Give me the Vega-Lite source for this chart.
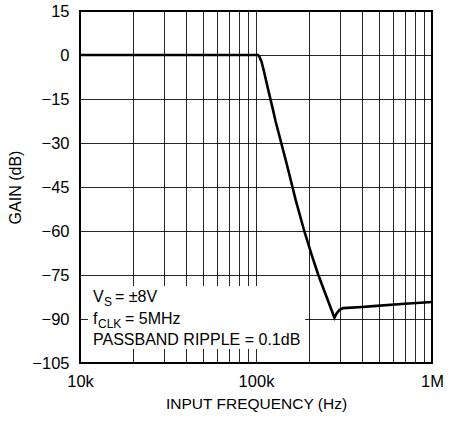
{
  "$schema": "https://vega.github.io/schema/vega-lite/v6.json",
  "width": 352,
  "height": 352,
  "autosize": {"type": "none"},
  "padding": {"left": 80, "top": 11, "right": 24, "bottom": 58},
  "background": "white",
  "config": {
    "font": "Liberation Sans",
    "view": {"stroke": "black", "strokeWidth": 2},
    "axis": {
      "domain": false,
      "ticks": false,
      "grid": true,
      "gridColor": "black",
      "gridOpacity": 0.85,
      "gridWidth": 1,
      "labelFont": "Liberation Sans",
      "labelFontSize": 16.5,
      "labelColor": "black",
      "titleFont": "Liberation Sans",
      "titleFontSize": 15.5,
      "titleFontWeight": "normal",
      "titleColor": "black"
    }
  },
  "layer": [
    {
      "data": {"values": [{}]},
      "mark": {"type": "rect", "fill": "white", "stroke": null},
      "encoding": {
        "x": {"datum": 11100, "type": "quantitative", "scale": {"type": "log", "domain": [10000, 1000000], "nice": false},
          "axis": {
            "grid": true,
            "values": [10000, 20000, 30000, 40000, 50000, 60000, 70000, 80000, 90000, 100000, 200000, 300000, 400000, 500000, 600000, 700000, 800000, 900000, 1000000],
            "labelExpr": "datum.value == 10000 ? '10k' : datum.value == 100000 ? '100k' : datum.value == 1000000 ? '1M' : ''",
            "labelPadding": 10,
            "labelFlush": false,
            "labelOverlap": false,
            "title": "INPUT FREQUENCY (Hz)",
            "titlePadding": 7
          }},
        "x2": {"datum": 190000},
        "y": {"datum": -78.75, "type": "quantitative", "scale": {"domain": [-105, 15], "nice": false},
          "axis": {
            "grid": true,
            "values": [-105, -90, -75, -60, -45, -30, -15, 0, 15],
            "labelPadding": 11,
            "title": "GAIN (dB)",
            "titleFontSize": 16,
            "titlePadding": 8
          }},
        "y2": {"datum": -100.2}
      }
    },
    {
      "data": {
        "values": [
          {"f": 10000, "gain": 0},
          {"f": 30000, "gain": 0},
          {"f": 102500, "gain": 0},
          {"f": 104500, "gain": -0.6},
          {"f": 107500, "gain": -2.3},
          {"f": 110000, "gain": -4.6},
          {"f": 118000, "gain": -12.5},
          {"f": 125000, "gain": -18.8},
          {"f": 129000, "gain": -22.4},
          {"f": 150000, "gain": -37.5},
          {"f": 168000, "gain": -49.4},
          {"f": 188000, "gain": -60},
          {"f": 208000, "gain": -68.5},
          {"f": 226000, "gain": -75},
          {"f": 250000, "gain": -82},
          {"f": 279000, "gain": -89.6},
          {"f": 287000, "gain": -88.1},
          {"f": 298000, "gain": -86.9},
          {"f": 313000, "gain": -86.3},
          {"f": 400000, "gain": -85.9},
          {"f": 464000, "gain": -85.6},
          {"f": 700000, "gain": -84.8},
          {"f": 1000000, "gain": -84.2}
        ]
      },
      "mark": {"type": "line", "color": "black", "strokeWidth": 2.6, "interpolate": "linear"},
      "encoding": {
        "x": {"field": "f", "type": "quantitative"},
        "y": {"field": "gain", "type": "quantitative"}
      }
    },
    {
      "data": {"values": [{}]},
      "layer": [
        {
          "mark": {"type": "text", "text": "V", "align": "left", "baseline": "alphabetic", "fontSize": 16, "font": "Liberation Sans", "color": "black"},
          "encoding": {"x": {"datum": 11850, "type": "quantitative"}, "y": {"datum": -84.2, "type": "quantitative"}}
        },
        {
          "mark": {"type": "text", "text": "S", "align": "left", "baseline": "alphabetic", "fontSize": 12, "dx": 11, "dy": 4, "font": "Liberation Sans", "color": "black"},
          "encoding": {"x": {"datum": 11850, "type": "quantitative"}, "y": {"datum": -84.2, "type": "quantitative"}}
        },
        {
          "mark": {"type": "text", "text": "= ±8V", "align": "left", "baseline": "alphabetic", "fontSize": 16, "dx": 22, "font": "Liberation Sans", "color": "black"},
          "encoding": {"x": {"datum": 11850, "type": "quantitative"}, "y": {"datum": -84.2, "type": "quantitative"}}
        },
        {
          "mark": {"type": "text", "text": "f", "align": "left", "baseline": "alphabetic", "fontSize": 16, "font": "Liberation Sans", "color": "black"},
          "encoding": {"x": {"datum": 11850, "type": "quantitative"}, "y": {"datum": -91.7, "type": "quantitative"}}
        },
        {
          "mark": {"type": "text", "text": "CLK", "align": "left", "baseline": "alphabetic", "fontSize": 12, "dx": 5, "dy": 4, "font": "Liberation Sans", "color": "black"},
          "encoding": {"x": {"datum": 11850, "type": "quantitative"}, "y": {"datum": -91.7, "type": "quantitative"}}
        },
        {
          "mark": {"type": "text", "text": "= 5MHz", "align": "left", "baseline": "alphabetic", "fontSize": 16, "dx": 32, "font": "Liberation Sans", "color": "black"},
          "encoding": {"x": {"datum": 11850, "type": "quantitative"}, "y": {"datum": -91.7, "type": "quantitative"}}
        },
        {
          "mark": {"type": "text", "text": "PASSBAND RIPPLE = 0.1dB", "align": "left", "baseline": "alphabetic", "fontSize": 16, "font": "Liberation Sans", "color": "black"},
          "encoding": {"x": {"datum": 11850, "type": "quantitative"}, "y": {"datum": -98.9, "type": "quantitative"}}
        }
      ]
    }
  ]
}
